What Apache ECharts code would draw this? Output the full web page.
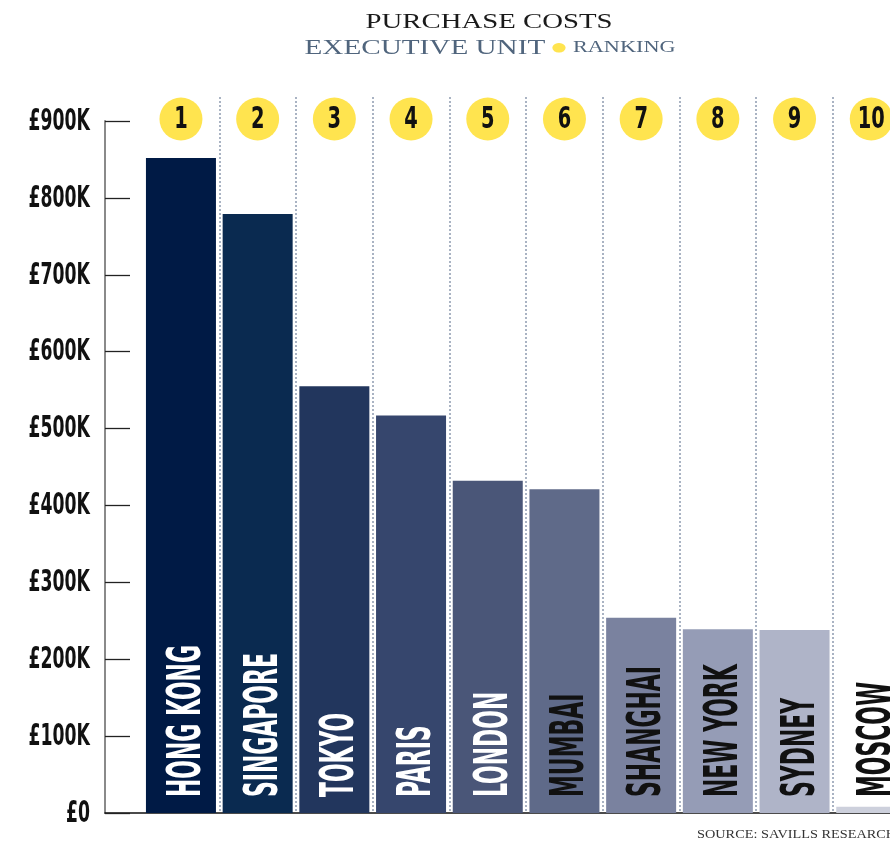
<!DOCTYPE html>
<html>
<head>
<meta charset="utf-8">
<script src="https://cdn.jsdelivr.net/npm/echarts@6/dist/echarts.min.js"></script>
<style>html,body{margin:0;padding:0;background:#fff;}#chart{width:890px;height:844px;}</style>
</head>
<body>
<div id="chart"></div>
<script>
const cities = ['HONG KONG','SINGAPORE','TOKYO','PARIS','LONDON','MUMBAI','SHANGHAI','NEW YORK','SYDNEY','MOSCOW'];
const values = [852000, 779000, 555000, 517000, 432000, 421000, 254000, 239000, 238000, 8000];
const ranks = ['1','2','3','4','5','6','7','8','9','10'];
const yTicks = [0, 100000, 200000, 300000, 400000, 500000, 600000, 700000, 800000, 900000];
const yTickLabels = ['£0','£100K','£200K','£300K','£400K','£500K','£600K','£700K','£800K','£900K'];
const barColors = ['#001a45','#0a2a50','#22365d','#36466d','#4a5678','#5f6a89','#7a829f','#959cb6','#afb4c8','#cdd0dc'];
const labelColors = ['#ffffff','#ffffff','#ffffff','#ffffff','#ffffff','#111111','#111111','#111111','#111111','#111111'];

const condensed = '"Liberation Sans Narrow", "DejaVu Sans Condensed", "Liberation Sans", sans-serif';
const serif = '"Liberation Serif", "DejaVu Serif", serif';

// 900K spans 692 px (y 121 -> 813); bar grid extends 24px higher for the divider lines
const Y_MAX_MAIN = 900000;
const Y_MAX_BARGRID = 900000 * 716 / 692;
const RANK_Y = 900000 * 694 / 692;

const chart = echarts.init(document.getElementById('chart'));
chart.setOption({
  animation: false,
  backgroundColor: '#ffffff',
  graphic: [
    { type: 'text', x: 489, y: 22, scaleX: 1.37,
      style: { text: 'PURCHASE COSTS', font: '21px ' + serif, fill: '#1a1a1a', align: 'center', verticalAlign: 'middle' } },
    { type: 'text', x: 490, y: 48, scaleX: 1.39, style: {
        text: '{a|EXECUTIVE UNIT} {d|●} {b|RANKING}',
        align: 'center', verticalAlign: 'middle',
        rich: {
          a: { font: '21px ' + serif, fill: '#50657d' },
          d: { font: '22px ' + serif, fill: '#ffe44f' },
          b: { font: '16px ' + serif, fill: '#50657d' }
        } } },
    { type: 'text', x: 697, y: 835, scaleX: 1.1,
      style: { text: 'SOURCE: SAVILLS RESEARCH', font: '13px ' + serif, fill: '#333', align: 'left', verticalAlign: 'middle' } }
  ],
  grid: [
    { left: 105, top: 121, bottom: 31, right: 0, outerBoundsMode: 'none' },
    { left: 142.6, top: 97, bottom: 31, width: 767, outerBoundsMode: 'none' }
  ],
  xAxis: [
    { gridIndex: 0, type: 'value', min: 0, max: 1,
      axisLine: { show: true, onZero: false, lineStyle: { color: '#111', width: 1.5 } },
      axisTick: { show: false }, axisLabel: { show: false }, splitLine: { show: false } },
    { gridIndex: 1, type: 'category', data: cities,
      axisLine: { show: false }, axisTick: { show: false }, axisLabel: { show: false },
      splitLine: { show: true, interval: function (i) { return i > 0; },
        lineStyle: { color: '#8d9bb0', type: [2, 2], width: 1.5 } } }
  ],
  yAxis: [
    { gridIndex: 0, type: 'value', min: 0, max: Y_MAX_MAIN, interval: 100000,
      axisLine: { show: true, lineStyle: { color: '#8a8a8a', width: 2 } },
      axisTick: { show: true, inside: true, length: 25, lineStyle: { color: '#222', width: 1.3 } },
      axisLabel: { show: false },
      splitLine: { show: false } },
    { gridIndex: 1, type: 'value', min: 0, max: Y_MAX_BARGRID, show: false, splitLine: { show: false } }
  ],
  series: [
    { type: 'bar', xAxisIndex: 1, yAxisIndex: 1, barWidth: 70,
      data: values.map(function (v, i) { return { value: v, itemStyle: { color: barColors[i] } }; }) },
    // city names, condensed, reading bottom-to-top
    { type: 'custom', xAxisIndex: 1, yAxisIndex: 1, z: 5, clip: false,
      data: values.map(function (v, i) { return [i, v]; }),
      renderItem: function (params, api) {
        const i = params.dataIndex;
        const p = api.coord([api.value(0), 0]);
        return { type: 'text', x: p[0] + 7, y: p[1] - 16, rotation: Math.PI / 2, scaleX: 0.53,
          style: { text: cities[i], fill: labelColors[i], font: 'bold 46px ' + condensed, align: 'left', verticalAlign: 'middle' } };
      } },
    // ranking circles
    { type: 'custom', xAxisIndex: 1, yAxisIndex: 1, z: 6, clip: false,
      data: ranks.map(function (r, i) { return [i, RANK_Y]; }),
      renderItem: function (params, api) {
        const i = params.dataIndex;
        const p = api.coord([api.value(0), api.value(1)]);
        return { type: 'group', children: [
          { type: 'circle', shape: { cx: p[0], cy: p[1], r: 21.5 }, style: { fill: '#ffe44f' } },
          { type: 'text', x: p[0], y: p[1] + 1, scaleX: 0.72,
            style: { text: ranks[i], fill: '#111', font: 'bold 30px ' + condensed, align: 'center', verticalAlign: 'middle' } }
        ] };
      } },
    // y-axis tick labels, condensed
    { type: 'custom', xAxisIndex: 0, yAxisIndex: 0, z: 6, clip: false,
      data: yTicks.map(function (t) { return [0, t]; }),
      renderItem: function (params, api) {
        const i = params.dataIndex;
        const p = api.coord([api.value(0), api.value(1)]);
        return { type: 'text', x: p[0] - 15, y: p[1] + 1, scaleX: 0.64,
          style: { text: yTickLabels[i], fill: '#111', font: 'bold 30px ' + condensed, align: 'right', verticalAlign: 'middle' } };
      } }
  ]
});
</script>
</body>
</html>
